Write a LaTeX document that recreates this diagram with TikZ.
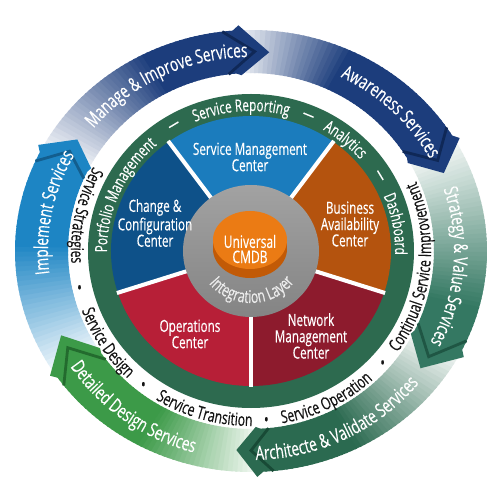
\documentclass[tikz,border=0pt]{standalone}
\usepackage{fontspec}
\setmainfont{Open Sans}[FakeStretch=0.7, FakeBold=0.35]
\usetikzlibrary{decorations.text}
\definecolor{navyA}{HTML}{1C3D7C}
\definecolor{navyD}{HTML}{0F2857}
\definecolor{stratC}{HTML}{347862}
\definecolor{stratD}{HTML}{1F5644}
\definecolor{archC}{HTML}{2B6A50}
\definecolor{archD}{HTML}{184A36}
\definecolor{detC}{HTML}{3C9A48}
\definecolor{detD}{HTML}{236B2E}
\definecolor{impC}{HTML}{1D85C4}
\definecolor{impD}{HTML}{135E8E}
\definecolor{ringG}{HTML}{2D6A4F}
\definecolor{smcC}{HTML}{1B7CBD}
\definecolor{chgC}{HTML}{0E5189}
\definecolor{bacC}{HTML}{B4530E}
\definecolor{opsC}{HTML}{B71F37}
\definecolor{nmcC}{HTML}{8D1B2D}
\definecolor{grayT}{HTML}{A2A2A2}
\definecolor{grayB}{HTML}{848484}
\definecolor{intC}{HTML}{ECECEC}
\definecolor{orgF}{HTML}{EB7B14}
\definecolor{orgS}{HTML}{C25A06}
\definecolor{txtK}{HTML}{141414}
\newcommand\fOut{\fontsize{11}{13}\selectfont}
\newcommand\fGreen{\fontsize{9.5}{11}\selectfont}
\newcommand\fWhite{\fontsize{10}{12}\selectfont}
\newcommand\fSect{\fontsize{9.5}{9.3}\selectfont}
\newcommand\fCore{\fontsize{9.8}{8.6}\selectfont}
\newcommand\fInt{\fontsize{10}{11}\selectfont}
% band with angular gradient: color, tail angle, base angle, gradient span
\newcommand\ringband[4]{%
  \pgfmathsetmacro\bandspan{(#2)-(#3)}%
  \foreach \i in {0,...,47}{%
    \pgfmathsetmacro\bsA{(#2)-\bandspan*\i/48}%
    \pgfmathsetmacro\bsB{(#2)-\bandspan*(\i+1)/48-0.5}%
    \pgfmathtruncatemacro\mixp{min(100,6+94*((#2)-(\bsA)+\bandspan/96)/(#4))}%
    \fill[#1!\mixp!white] (\bsA:236 and 221) arc[start angle=\bsA, end angle=\bsB, x radius=236, y radius=221]
      -- (\bsB:183 and 178) arc[start angle=\bsB, end angle=\bsA, x radius=183, y radius=178] -- cycle;
  }%
}
% chevron head: color, dark, base angle, tip angle
\newcommand\ringhead[4]{%
  \pgfmathsetmacro\hdBase{#3}\pgfmathsetmacro\hdBack{#3+1.5}\pgfmathsetmacro\hdTip{#4}%
  \pgfmathsetmacro\hdSb{#3+4}\pgfmathsetmacro\hdSt{#4+4}%
  \fill[#1] (\hdBack:236 and 221) -- (\hdBase:241 and 226) -- (\hdTip:209.5 and 199.5) -- (\hdBase:181 and 176) -- (\hdBack:183 and 178) -- cycle;
  \draw[#2, line width=1.6pt, line join=miter] (\hdSb:236 and 221) -- (\hdSt:209.5 and 199.5) -- (\hdSb:183 and 178);
}
% clockwise text (tops outward): centre angle, rx, ry, colour, font, half span, text
\newcommand\cwtext[7]{%
  \pgfmathsetmacro\txA{#1+#6}\pgfmathsetmacro\txB{#1-#6}%
  \path[decorate, decoration={text along path, text color=#4, text align=center, text={|#5|#7}}]
    (\txA:#2 and #3) arc[start angle=\txA, end angle=\txB, x radius=#2, y radius=#3];
}
% counter-clockwise text (tops inward)
\newcommand\ccwtext[7]{%
  \pgfmathsetmacro\txA{#1-#6}\pgfmathsetmacro\txB{#1+#6}%
  \path[decorate, decoration={text along path, text color=#4, text align=center, text={|#5|#7}}]
    (\txA:#2 and #3) arc[start angle=\txA, end angle=\txB, x radius=#2, y radius=#3];
}
\tikzset{
  sect/.style={text=white, align=center, font=\fSect, inner sep=0pt},
  dashn/.style={text=white, font=\fGreen, inner sep=0pt},
  bul/.style={text=txtK, font=\fWhite, inner sep=0pt},
  divider/.style={white, line width=2.3pt},
}
\begin{document}
\begin{tikzpicture}[x=0.02cm, y=0.02cm]
\fill[white] (-251,-249) rectangle (249,251);
\useasboundingbox (-251,-249) rectangle (249,251);
% outer arrow bands
\ringband{navyA}{152}{93}{35}
\ringband{navyA}{93}{30}{28}
\ringband{stratC}{30}{-28}{45}
\ringband{archC}{-28}{-88.5}{35}
\ringband{detC}{-88.5}{-146.5}{30}
\ringband{impC}{-146.5}{-208}{35}
% heads
\ringhead{navyA}{navyD}{93}{85}
\ringhead{navyA}{navyD}{30}{23}
\ringhead{stratC}{stratD}{-28}{-36}
\ringhead{archC}{archD}{-88.5}{-94}
\ringhead{detC}{detD}{-146.5}{-155}
\ringhead{impC}{impD}{-208}{-214}
% green ring
\fill[ringG] (0,0) ellipse[x radius=163, y radius=157];
% sectors
\fill[smcC] (0,0) -- (54:140 and 135) arc[start angle=54, end angle=126, x radius=140, y radius=135] -- cycle;
\fill[chgC] (0,0) -- (126:140 and 135) arc[start angle=126, end angle=198, x radius=140, y radius=135] -- cycle;
\fill[opsC] (0,0) -- (198:140 and 135) arc[start angle=198, end angle=270, x radius=140, y radius=135] -- cycle;
\fill[nmcC] (0,0) -- (270:140 and 135) arc[start angle=270, end angle=342, x radius=140, y radius=135] -- cycle;
\fill[bacC] (0,0) -- (-18:140 and 135) arc[start angle=-18, end angle=54, x radius=140, y radius=135] -- cycle;
\foreach \a in {54,126,198,270,342}{\draw[divider] (\a:60 and 58) -- (\a:141 and 136);}
% integration layer and CMDB
\shade[top color=grayT, bottom color=grayB] (0,0) ellipse[x radius=68, y radius=66];
\fill[orgS] (-1,2) ellipse[x radius=37, y radius=29];
\fill[orgS] (-38,2) rectangle (36,11);
\fill[orgF] (-1,11) ellipse[x radius=37, y radius=29];
\node[sect, font=\fCore] (cmdb) at (-1,2) {Universal\\CMDB};
\ccwtext{-89}{54}{52}{intC}{\fInt}{85}{Integration Layer}
% sector labels
\node[sect] (smc) at (-1,94) {Service Management\\Center};
\node[sect] (chg) at (-96,28) {Change \&\\Configuration\\Center};
\node[sect] (bac) at (99,27) {Business\\Availability\\Center};
\node[sect] (ops) at (-61,-83) {Operations\\Center};
\node[sect] (nmc) at (60,-85) {Network\\Management\\Center};
% green ring texts
\cwtext{156}{144}{140}{white}{\fGreen}{60}{Portfolio Management}
\cwtext{94}{144}{140}{white}{\fGreen}{60}{Service Reporting}
\cwtext{49.8}{144}{140}{white}{\fGreen}{60}{Analytics}
\cwtext{10.6}{144}{140}{white}{\fGreen}{60}{Dashboard}
\node[dashn, rotate=30.8] (dash1) at (120.8:149 and 145) {—};
\node[dashn, rotate=-22.4] (dash2) at (67.6:149 and 145) {—};
\node[dashn, rotate=-59] (dash3) at (31:149 and 145) {—};
% white ring texts
\ccwtext{167.9}{180}{175}{txtK}{\fWhite}{70}{Service Strategies}
\ccwtext{212.7}{180}{175}{txtK}{\fWhite}{70}{Service Design}
\ccwtext{253.9}{180}{175}{txtK}{\fWhite}{70}{Service Transition}
\ccwtext{296.8}{180}{175}{txtK}{\fWhite}{70}{Service Operation}
\ccwtext{354.1}{180}{175}{txtK}{\fWhite}{70}{Continual Service Improvement}
\node[bul] (b1) at (193:176 and 171) {•};
\node[bul] (b2) at (232.3:176 and 171) {•};
\node[bul] (b3) at (275:176 and 171) {•};
\node[bul] (b4) at (318.4:176 and 171) {•};
% outer band texts
\cwtext{116.5}{203}{194}{white}{\fOut}{60}{Manage {\&} Improve Services}
\cwtext{45.2}{203}{194}{white}{\fOut}{60}{Awareness Services}
\cwtext{-4.6}{203}{194}{white}{\fOut}{60}{Strategy {\&} Value Services}
\cwtext{168.9}{203}{194}{white}{\fOut}{60}{Implement Services}
\ccwtext{-63.5}{217}{209}{white}{\fOut}{60}{Architecte {\&} Validate Services}
\ccwtext{-126.5}{217}{209}{white}{\fOut}{60}{Detailed Design Services}
\end{tikzpicture}
\end{document}
